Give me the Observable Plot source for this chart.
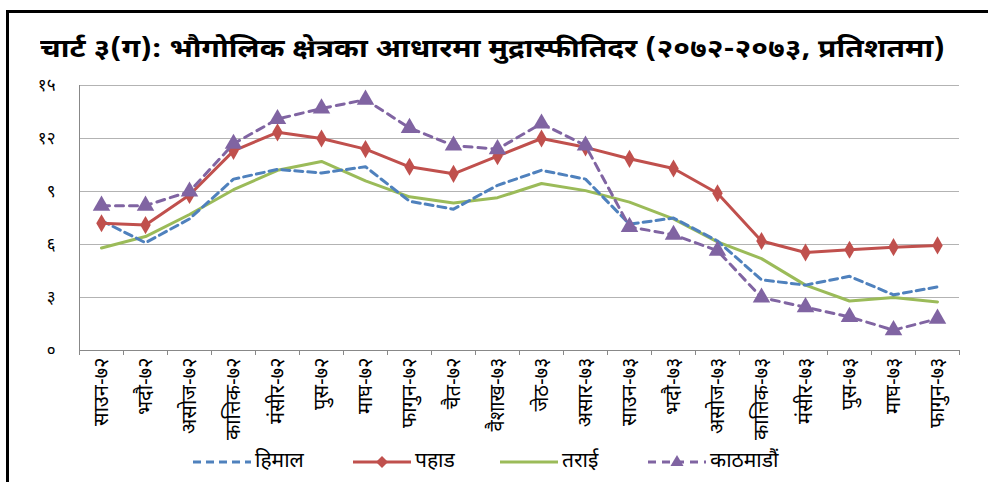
<!DOCTYPE html>
<html>
<head>
<meta charset="utf-8">
<script src="https://cdn.jsdelivr.net/npm/d3@7"></script>
<script src="https://cdn.jsdelivr.net/npm/@observablehq/plot@0.6"></script>
<style>
  html, body { margin: 0; padding: 0; background: #fff; }
  #wrap { position: relative; width: 988px; height: 482px; overflow: hidden; background: #fff;
    font-family: "Noto Sans Devanagari", "Lohit Devanagari", "Mangal", "Noto Sans", sans-serif; }
  #frame { position: absolute; left: 6px; top: 10px; width: 1000px; height: 500px;
    border-left: 3px solid #000; border-top: 3px solid #000; box-sizing: border-box; }
  #title { position: absolute; left: 40px; top: 35px; font-size: 25px; font-weight: bold; color: #000;
    white-space: nowrap; transform-origin: 0 50%; }
  #chart { position: absolute; left: 0; top: 60px; }
  #legend { position: absolute; top: 447px; left: 0; width: 988px; height: 30px; }
  .item { position: absolute; top: 0; height: 30px; display: flex; align-items: center; font-size: 21px; color: #000; }
</style>
</head>
<body>
<div id="wrap">
  <div id="frame"></div>
  <div id="title">चार्ट ३(ग): भौगोलिक क्षेत्रका आधारमा मुद्रास्फीतिदर (२०७२-२०७३, प्रतिशतमा)</div>
  <div id="chart"></div>
  <div id="legend"></div>
</div>
<script>
const months = ["साउन-७२","भदौ-७२","असोज-७२","कात्तिक-७२","मंसीर-७२","पुस-७२","माघ-७२","फागुन-७२","चैत-७२","वैशाख-७३",
                "जेठ-७३","असार-७३","साउन-७३","भदौ-७३","असोज-७३","कात्तिक-७३","मंसीर-७३","पुस-७३","माघ-७३","फागुन-७३"];
const yTicks = [0, 3, 6, 9, 12, 15];
const yTickLabels = ["०", "३", "६", "९", "१२", "१५"];
const seriesNames = ["हिमाल", "पहाड", "तराई", "काठमाडौं"];
const himal     = [7.35, 6.1, 7.45, 9.7, 10.25, 10.05, 10.4, 8.45, 8.0, 9.35, 10.2, 9.7, 7.15, 7.5, 6.2, 4.0, 3.7, 4.2, 3.15, 3.6];
const pahad     = [7.2, 7.1, 8.8, 11.3, 12.35, 12.0, 11.4, 10.4, 10.0, 11.0, 12.0, 11.5, 10.85, 10.3, 8.9, 6.2, 5.55, 5.7, 5.85, 5.95];
const terai     = [5.8, 6.45, 7.7, 9.1, 10.2, 10.7, 9.6, 8.7, 8.35, 8.65, 9.45, 9.05, 8.4, 7.45, 6.15, 5.2, 3.7, 2.8, 3.0, 2.75];
const kathmandu = [8.2, 8.2, 9.0, 11.7, 13.1, 13.7, 14.2, 12.6, 11.6, 11.4, 12.85, 11.6, 7.0, 6.55, 5.65, 3.0, 2.45, 1.9, 1.15, 1.8];

const colors = ["#4F81BD", "#C0504D", "#9BBB59", "#8064A2"];
const rows = (vals) => vals.map((v, i) => ({i, v}));
const idx = d3.range(months.length);
const boundaries = d3.range(months.length + 1).map(i => i - 0.5);
const font = '"Noto Sans Devanagari", "Lohit Devanagari", "Mangal", "Noto Sans", sans-serif';

// stretch title to the reference width
const title = document.getElementById("title");
const tw = title.getBoundingClientRect().width;
title.style.transform = `scaleX(${905 / tw})`;

const plot = Plot.plot({
  width: 988, height: 390,
  marginLeft: 79, marginRight: 29, marginTop: 25, marginBottom: 100,
  x: {domain: [-0.5, months.length - 0.5]},
  y: {domain: [0, 15]},
  style: {fontFamily: font, background: "transparent", color: "#000", overflow: "visible"},
  marks: [
    Plot.gridY(yTicks, {stroke: "#b3b3b3", strokeOpacity: 1, strokeWidth: 1}),
    Plot.axisY(yTicks, {tickSize: 0, tickPadding: 24, tickFormat: d => yTickLabels[yTicks.indexOf(d)], fontSize: 17, label: null}),
    Plot.ruleY([0], {stroke: "#888"}),
    Plot.ruleX([-0.5], {stroke: "#888", y1: 0, y2: 15}),
    Plot.axisX(boundaries, {tickSize: 5, tickFormat: () => "", stroke: "#888", label: null}),
    Plot.axisX(idx, {tickSize: 0, tickPadding: 7, tickRotate: -90, tickFormat: i => months[i], fontSize: 20, label: null}),
    Plot.line(rows(terai), {x: "i", y: "v", stroke: colors[2], strokeWidth: 3}),
    Plot.line(rows(himal), {x: "i", y: "v", stroke: colors[0], strokeWidth: 3, strokeDasharray: "8,5"}),
    Plot.line(rows(pahad), {x: "i", y: "v", stroke: colors[1], strokeWidth: 3}),
    Plot.dot(rows(pahad), {x: "i", y: "v", symbol: "diamond", r: 5.5, fill: colors[1]}),
    Plot.line(rows(kathmandu), {x: "i", y: "v", stroke: colors[3], strokeWidth: 3, strokeDasharray: "8,6"}),
    Plot.dot(rows(kathmandu), {x: "i", y: "v", symbol: "triangle", r: 6.5, fill: colors[3]})
  ]
});
document.getElementById("chart").appendChild(plot);

// legend
const legend = document.getElementById("legend");
const legendX = [193, 353, 500, 648];
seriesNames.forEach((name, k) => {
  const item = document.createElement("div");
  item.className = "item";
  item.style.left = legendX[k] + "px";
  const ns = "http://www.w3.org/2000/svg";
  const svg = document.createElementNS(ns, "svg");
  svg.setAttribute("width", 62); svg.setAttribute("height", 28);
  const ln = document.createElementNS(ns, "line");
  ln.setAttribute("x1", 0); ln.setAttribute("x2", 58); ln.setAttribute("y1", 14); ln.setAttribute("y2", 14);
  ln.setAttribute("stroke", colors[k]); ln.setAttribute("stroke-width", 3);
  if (k === 0) ln.setAttribute("stroke-dasharray", "8,5");
  if (k === 3) ln.setAttribute("stroke-dasharray", "8,6");
  svg.appendChild(ln);
  if (k === 1) {
    const p = document.createElementNS(ns, "path");
    p.setAttribute("d", "M29,8 L35,14 L29,20 L23,14 Z"); p.setAttribute("fill", colors[1]);
    svg.appendChild(p);
  }
  if (k === 3) {
    const p = document.createElementNS(ns, "path");
    p.setAttribute("d", "M29,7 L35.5,18 L22.5,18 Z"); p.setAttribute("fill", colors[3]);
    svg.appendChild(p);
  }
  item.appendChild(svg);
  const t = document.createElement("span");
  t.textContent = name;
  item.appendChild(t);
  legend.appendChild(item);
});
</script>
</body>
</html>
